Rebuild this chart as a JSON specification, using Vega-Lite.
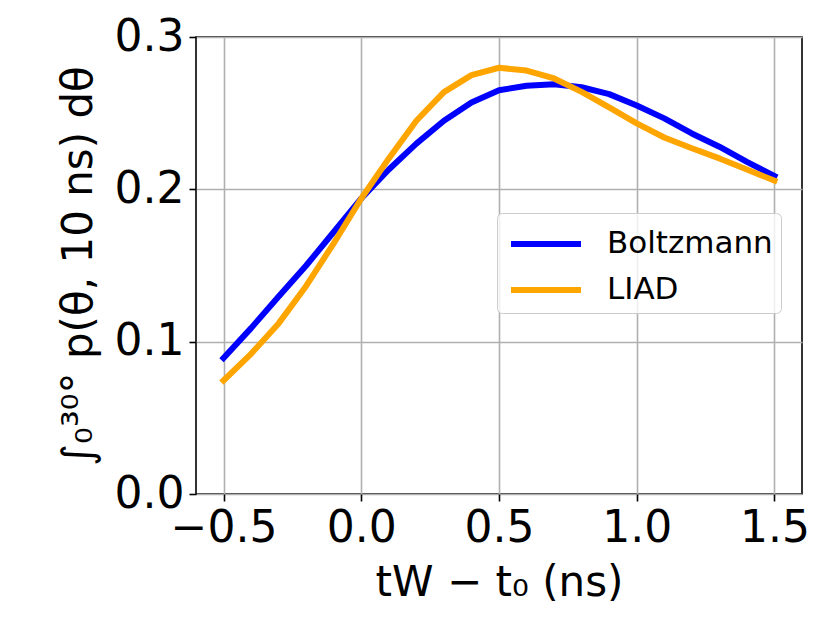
{
  "$schema": "https://vega.github.io/schema/vega-lite/v6.json",
  "width": 606,
  "height": 457,
  "autosize": "none",
  "padding": {"left": 196, "top": 37, "right": 28, "bottom": 129},
  "background": "white",
  "config": {
    "font": "DejaVu Sans",
    "view": {"stroke": "black", "strokeWidth": 1.6},
    "axis": {
      "domain": false,
      "grid": true,
      "gridColor": "#b0b0b0",
      "gridWidth": 1.6,
      "tickColor": "black",
      "tickWidth": 1.6,
      "tickSize": 7,
      "labelFont": "DejaVu Sans",
      "labelFontSize": 44,
      "labelColor": "black",
      "labelPadding": 5,
      "titleFont": "DejaVu Sans",
      "titleFontSize": 42,
      "titleFontWeight": "normal",
      "titleColor": "black"
    }
  },
  "data": {
    "values": [
      {"t": -0.5, "p": 0.0892, "model": "Boltzmann"},
      {"t": -0.4, "p": 0.1089, "model": "Boltzmann"},
      {"t": -0.3, "p": 0.1296, "model": "Boltzmann"},
      {"t": -0.2, "p": 0.150, "model": "Boltzmann"},
      {"t": -0.1, "p": 0.172, "model": "Boltzmann"},
      {"t": 0.0, "p": 0.194, "model": "Boltzmann"},
      {"t": 0.1, "p": 0.213, "model": "Boltzmann"},
      {"t": 0.2, "p": 0.230, "model": "Boltzmann"},
      {"t": 0.3, "p": 0.245, "model": "Boltzmann"},
      {"t": 0.4, "p": 0.257, "model": "Boltzmann"},
      {"t": 0.5, "p": 0.265, "model": "Boltzmann"},
      {"t": 0.6, "p": 0.268, "model": "Boltzmann"},
      {"t": 0.7, "p": 0.269, "model": "Boltzmann"},
      {"t": 0.8, "p": 0.267, "model": "Boltzmann"},
      {"t": 0.9, "p": 0.2625, "model": "Boltzmann"},
      {"t": 1.0, "p": 0.255, "model": "Boltzmann"},
      {"t": 1.1, "p": 0.2466, "model": "Boltzmann"},
      {"t": 1.2, "p": 0.2367, "model": "Boltzmann"},
      {"t": 1.3, "p": 0.228, "model": "Boltzmann"},
      {"t": 1.4, "p": 0.218, "model": "Boltzmann"},
      {"t": 1.5, "p": 0.2087, "model": "Boltzmann"},
      {"t": -0.5, "p": 0.0745, "model": "LIAD"},
      {"t": -0.4, "p": 0.092, "model": "LIAD"},
      {"t": -0.3, "p": 0.112, "model": "LIAD"},
      {"t": -0.2, "p": 0.1366, "model": "LIAD"},
      {"t": -0.1, "p": 0.1646, "model": "LIAD"},
      {"t": 0.0, "p": 0.194, "model": "LIAD"},
      {"t": 0.1, "p": 0.2203, "model": "LIAD"},
      {"t": 0.2, "p": 0.245, "model": "LIAD"},
      {"t": 0.3, "p": 0.2638, "model": "LIAD"},
      {"t": 0.4, "p": 0.275, "model": "LIAD"},
      {"t": 0.5, "p": 0.2798, "model": "LIAD"},
      {"t": 0.6, "p": 0.278, "model": "LIAD"},
      {"t": 0.7, "p": 0.2728, "model": "LIAD"},
      {"t": 0.8, "p": 0.264, "model": "LIAD"},
      {"t": 0.9, "p": 0.2538, "model": "LIAD"},
      {"t": 1.0, "p": 0.2433, "model": "LIAD"},
      {"t": 1.1, "p": 0.234, "model": "LIAD"},
      {"t": 1.2, "p": 0.227, "model": "LIAD"},
      {"t": 1.3, "p": 0.2203, "model": "LIAD"},
      {"t": 1.4, "p": 0.213, "model": "LIAD"},
      {"t": 1.5, "p": 0.2057, "model": "LIAD"}
    ]
  },
  "mark": {"type": "line", "strokeWidth": 6, "strokeCap": "square", "strokeJoin": "round", "clip": true},
  "encoding": {
    "x": {
      "field": "t",
      "type": "quantitative",
      "scale": {"domain": [-0.6, 1.6], "nice": false, "zero": false},
      "axis": {"values": [-0.5, 0, 0.5, 1, 1.5], "format": ".1f", "title": "tW − t₀ (ns)", "titlePadding": 12}
    },
    "y": {
      "field": "p",
      "type": "quantitative",
      "scale": {"domain": [0, 0.3], "nice": false, "zero": false},
      "axis": {"values": [0, 0.1, 0.2, 0.3], "format": ".1f", "title": "∫₀³⁰° p(θ, 10 ns) dθ", "titlePadding": 14}
    },
    "color": {
      "field": "model",
      "type": "nominal",
      "scale": {"domain": ["Boltzmann", "LIAD"], "range": ["blue", "orange"]},
      "legend": {
        "title": null,
        "orient": "none",
        "legendX": 301,
        "legendY": 176,
        "symbolType": "M-1.75,0H1.75",
        "symbolStrokeWidth": 6,
        "symbolSize": 1600,
        "symbolOffset": 18,
        "labelFontSize": 31,
        "labelFont": "DejaVu Sans",
        "labelColor": "black",
        "labelLimit": 400,
        "labelOffset": 38,
        "rowPadding": 8,
        "padding": 8,
        "fillColor": "rgba(255,255,255,0.8)",
        "strokeColor": "#cccccc",
        "cornerRadius": 5
      }
    }
  }
}
